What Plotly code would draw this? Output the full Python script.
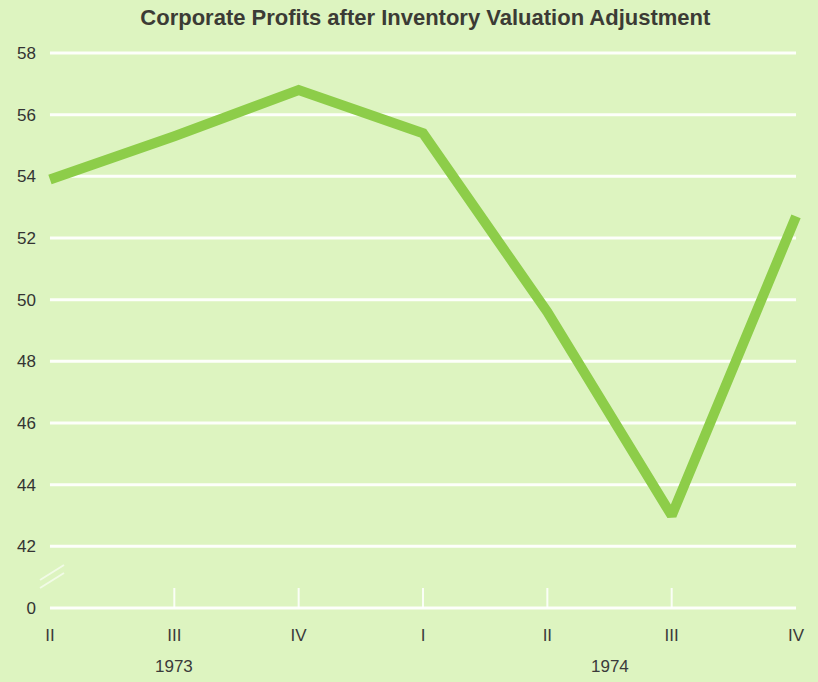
import plotly.graph_objects as go

# ---- data ----
quarters = ["II", "III", "IV", "I", "II", "III", "IV"]
profits = [53.9, 55.3, 56.8, 55.4, 49.6, 43.0, 52.7]
years = ["1973", "1974"]
year_pos = [1, 4.5]
y_tick_vals = [40, 42, 44, 46, 48, 50, 52, 54, 56, 58]
y_tick_text = ["0", "42", "44", "46", "48", "50", "52", "54", "56", "58"]
title_text = "Corporate Profits after Inventory Valuation Adjustment"

x_idx = list(range(len(quarters)))

H, T, B, L, R = 682, 48, 69, 42, 14
PX_PER_UNIT = 30.83

fig = go.Figure()

# white horizontal grid lines spanning the data range only
for yv in y_tick_vals:
    fig.add_shape(type="line", xref="x", yref="y", x0=0, x1=len(quarters) - 1,
                  y0=yv, y1=yv, layer="below",
                  line=dict(color="rgba(255,255,255,0.92)", width=3))

# small white upward ticks at the inner quarters
for xi in x_idx[1:-1]:
    fig.add_shape(type="line", xref="x", yref="y", x0=xi, x1=xi,
                  y0=40, y1=40 + 20 / PX_PER_UNIT, layer="below",
                  line=dict(color="rgba(255,255,255,0.85)", width=2))

fig.add_trace(go.Scatter(
    x=x_idx, y=profits, mode="lines",
    line=dict(color="#8dcd49", width=10),
    hoverinfo="skip", showlegend=False,
))

label_font = dict(family="Liberation Sans, Arial, sans-serif", size=17, color="#3a3a3a")

for yr, xp in zip(years, year_pos):
    fig.add_annotation(x=xp, y=0, xref="x", yref="paper", yshift=-53,
                       text=yr, showarrow=False, font=label_font,
                       xanchor="center", yanchor="middle")

# axis-break marks (pixel-based decoration)
PW, PH = 818 - L - R, H - T - B
def px(xp):
    return (xp - L) / PW
def py(yp):
    return (H - B - yp) / PH
for dy in (0, 8):
    fig.add_shape(type="line", xref="paper", yref="paper",
                  x0=px(40), y0=py(580 + dy), x1=px(64), y1=py(565 + dy),
                  line=dict(color="rgba(255,255,255,0.6)", width=2))

fig.update_layout(
    width=818, height=682,
    margin=dict(l=L, r=R, t=T, b=B),
    paper_bgcolor="#ddf4c0",
    plot_bgcolor="#ddf4c0",
    title=dict(text="<b>" + title_text + "</b>", x=0.52, xanchor="center",
               y=1 - 17 / 682, yanchor="middle",
               font=dict(family="Liberation Sans Narrow, Arial Narrow, Liberation Sans, sans-serif",
                         size=22, color="#3b3b35")),
    xaxis=dict(range=[-0.064, 6.064], tickvals=x_idx, ticktext=quarters,
               showgrid=False, zeroline=False, showline=False, ticks="",
               tickfont=label_font, ticklabelstandoff=10, fixedrange=True),
    yaxis=dict(range=[40 - 5 / PX_PER_UNIT, 58 + 5 / PX_PER_UNIT],
               tickvals=y_tick_vals, ticktext=y_tick_text,
               showgrid=False, zeroline=False, showline=False, ticks="",
               tickfont=dict(family="Liberation Sans, Arial, sans-serif", size=17, color="#333333"),
               ticklabelstandoff=5, fixedrange=True),
)

fig.write_html("out.html", config={"displayModeBar": False},
               post_script="document.body.style.margin='0';document.body.style.padding='0';document.body.style.overflow='hidden';")
